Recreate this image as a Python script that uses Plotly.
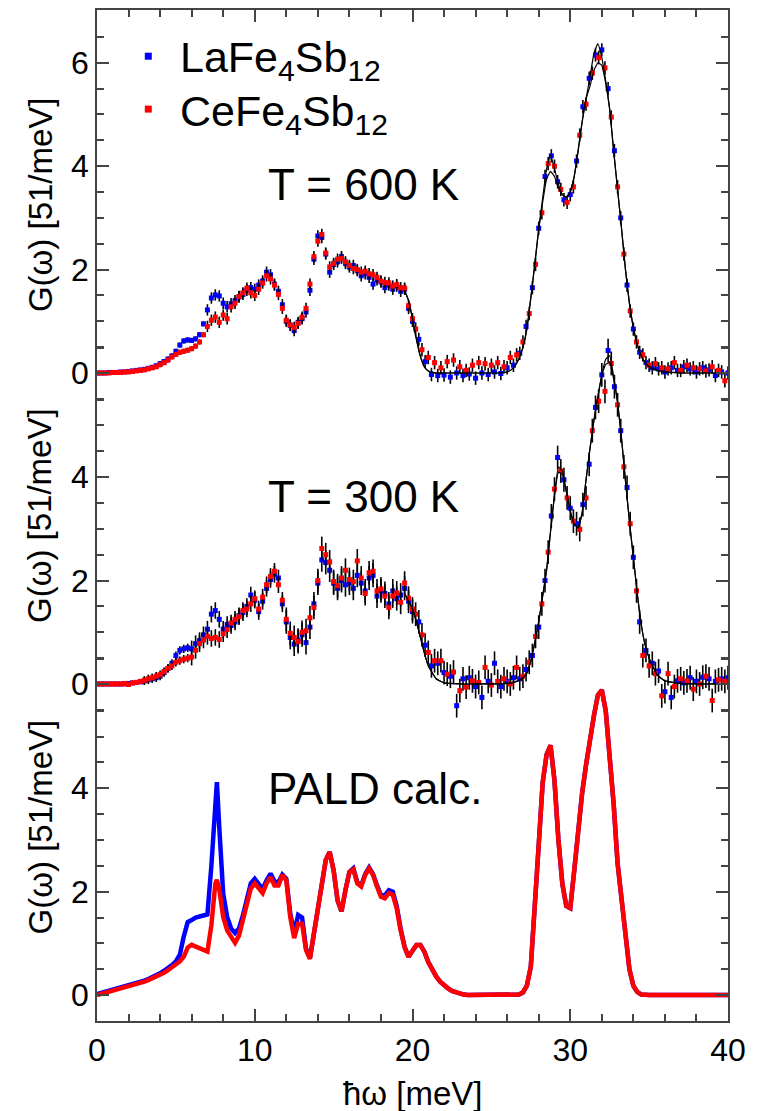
import plotly.graph_objects as go

# ---------------- energy grids (meV) ----------------
E_lo = [0,0.25,0.5,0.75,1,1.25,1.5,1.75,2,2.25,2.5,2.75,3,3.25,3.5,3.75,4,4.25,4.5,4.75,
        5,5.25,5.5,5.75,6,6.25,6.5,6.75,7,7.25,7.5,7.75,8,8.25,8.5,8.75,9,9.25,9.5,9.75,
        10,10.25,10.5,10.75,11,11.25,11.5,11.75,12,12.25,12.5,12.75,13,13.25,13.5,13.75,
        14,14.25,14.5,14.75,15,15.25,15.5,15.75,16,16.25,16.5,16.75,17,17.25,17.5,17.75,
        18,18.25,18.5,18.75,19,19.25,19.5,19.75,20]
E_hi_la = [20.4,20.8,21.2,21.6,22.0,22.4,22.8,23.2,23.6,24.0,24.4,24.8,25.2,25.6,26.0,26.4,
           26.8,27.2,27.6,28.0,28.4,28.8,29.2,29.6,30.0,30.4,30.8,31.2,31.6,32.0,32.4,32.8,
           33.2,33.6,34.0,34.4,34.8,35.2,35.6,36.0,36.4,36.8,37.2,37.6,38.0,38.4,38.8,39.2,
           39.6,40.0]
E_hi_ce = [20.2,20.6,21.0,21.4,21.8,22.2,22.6,23.0,23.4,23.8,24.2,24.6,25.0,25.4,25.8,26.2,
           26.6,27.0,27.4,27.8,28.2,28.6,29.0,29.4,29.8,30.2,30.6,31.0,31.4,31.8,32.2,32.6,
           33.0,33.4,33.8,34.2,34.6,35.0,35.4,35.8,36.2,36.6,37.0,37.4,37.8,38.2,38.6,39.0,
           39.4,39.8]
E_fit = [19.5,19.75,20,20.25,20.5,20.75,21,21.5,22,23,24,25,25.5,26,
         26.25,26.5,26.75,27,27.25,27.5,27.75,28,28.25,28.5,28.75,29,29.25,29.5,29.75,30,
         30.25,30.5,30.75,31,31.25,31.5,31.75,32,32.25,32.5,32.75,33,33.25,33.5,33.75,34,
         34.25,34.5,34.75,35,35.5,36,37,38,39,40]
E_calc = [0,0.25,0.5,0.75,1,1.25,1.5,1.75,2,2.25,2.5,2.75,3,3.25,3.5,3.75,4,4.25,4.5,4.75,
          5,5.25,5.5,5.75,6,6.25,6.5,6.75,7,7.25,7.5,7.6,7.75,8,8.25,8.5,8.75,9,9.25,9.5,9.75,
          10,10.25,10.5,10.75,11,11.25,11.5,11.75,12,12.25,12.5,12.75,13,13.25,13.5,13.75,
          14,14.25,14.5,14.75,15,15.25,15.5,15.75,16,16.25,16.5,16.75,17,17.25,17.5,17.75,
          18,18.25,18.5,18.75,19,19.25,19.5,19.75,20,20.25,20.5,20.75,21,21.25,21.5,21.75,
          22,22.25,22.5,22.75,23,23.25,23.5,24,25,26,26.5,26.75,
          27,27.25,27.5,27.75,28,28.25,28.5,28.75,29,29.25,29.5,29.75,30,30.25,30.5,30.75,
          31,31.25,31.5,31.75,32,32.25,32.5,32.75,33,33.25,33.5,33.75,34,34.25,34.5,34.75,35,
          36,38,40]

# ---------------- T = 600 K ----------------
g600_la_lo = [0.00,0.00,0.00,0.01,0.01,0.01,0.02,0.02,
              0.03,0.04,0.05,0.06,0.07,0.09,0.11,0.14,
              0.18,0.22,0.27,0.33,0.42,0.54,0.62,0.64,
              0.63,0.66,0.74,0.95,1.22,1.45,1.51,1.49,
              1.35,1.28,1.34,1.40,1.47,1.52,1.60,1.65,
              1.62,1.70,1.78,1.95,1.90,1.72,1.58,1.32,
              1.00,0.92,0.82,0.98,1.05,1.18,1.60,2.20,
              2.65,2.62,2.30,1.95,2.10,2.15,2.25,2.12,
              2.05,2.08,1.98,1.88,1.92,1.85,1.72,1.80,
              1.76,1.65,1.70,1.62,1.68,1.58,1.62,1.25,
              1.00]
g600_ce_lo = [0.00,0.00,0.00,0.00,0.01,0.01,0.01,0.02,
              0.02,0.03,0.04,0.05,0.06,0.08,0.10,0.12,
              0.16,0.20,0.25,0.31,0.36,0.40,0.42,0.44,
              0.47,0.52,0.60,0.74,0.90,1.02,1.08,0.98,
              1.12,1.05,1.28,1.35,1.48,1.55,1.64,1.55,
              1.50,1.62,1.74,1.88,1.82,1.70,1.52,1.25,
              1.02,0.93,0.88,0.96,1.08,1.25,1.72,2.25,
              2.55,2.68,2.32,2.05,2.12,2.20,2.22,2.15,
              2.08,2.02,2.00,1.95,1.97,1.92,1.90,1.85,
              1.78,1.75,1.74,1.68,1.71,1.65,1.64,1.30,
              1.05]
g600_la_hi = [0.65,0.22,-0.03,-0.05,-0.04,-0.08,0.00,-0.05,
              -0.02,-0.10,0.00,-0.03,0.02,-0.01,0.10,0.15,
              0.38,0.90,1.65,2.80,3.80,4.20,3.70,3.35,
              3.45,4.10,5.15,5.70,6.15,6.25,5.50,4.30,
              3.00,1.70,0.85,0.40,0.20,0.10,0.08,0.02,
              0.10,0.05,0.12,0.08,0.02,0.10,0.06,-0.05,
              0.02,0.00]
g600_ce_hi = [0.85,0.45,0.30,0.20,0.10,0.22,0.25,0.12,
              0.05,0.15,0.20,0.18,0.15,0.20,0.12,0.30,
              0.35,0.60,1.15,2.10,3.10,4.05,4.00,3.55,
              3.30,3.60,4.60,5.20,5.80,6.10,5.90,4.95,
              3.60,2.30,1.20,0.60,0.35,0.15,0.18,0.10,
              0.08,0.20,0.05,0.15,0.10,0.08,0.04,0.12,
              0.05,-0.15]
err600_lo = [0.02] * 16 + [0.05] * 12 + [0.11] * 53
err600_hi = [0.13] * 50
fit600_a = [1.60,1.40,1.05,0.65,0.32,0.12,0.04,0.00,0.00,0.00,0.00,0.00,0.00,0.02,
            0.06,0.14,0.28,0.50,0.85,1.45,2.10,2.78,3.38,3.95,4.22,3.95,3.65,3.45,3.40,3.50,
            3.80,4.30,4.85,5.30,5.72,6.18,6.37,6.10,5.65,5.10,4.30,3.55,2.80,2.00,1.35,0.88,
            0.55,0.33,0.20,0.12,0.05,0.02,0.00,0.00,0.00,0.00]
fit600_b = [1.60,1.40,1.05,0.65,0.32,0.12,0.04,0.00,0.00,0.00,0.00,0.00,0.00,0.02,
            0.06,0.14,0.28,0.50,0.85,1.45,2.10,2.78,3.30,3.75,3.90,3.80,3.58,3.45,3.40,3.50,
            3.80,4.30,4.85,5.30,5.55,5.85,6.00,5.95,5.60,5.10,4.30,3.55,2.80,2.00,1.35,0.88,
            0.55,0.33,0.20,0.12,0.05,0.02,0.00,0.00,0.00,0.00]

# ---------------- T = 300 K ----------------
g300_la_lo = [0.00,0.00,0.00,0.00,0.00,0.00,0.00,0.00,
              0.01,0.02,0.03,0.04,0.06,0.08,0.10,0.12,
              0.15,0.22,0.30,0.40,0.55,0.65,0.68,0.70,
              0.68,0.78,0.84,0.95,1.06,1.35,1.42,1.25,
              1.06,1.15,1.13,1.20,1.32,1.38,1.50,1.72,
              1.62,1.40,1.60,1.85,2.02,2.12,2.05,1.55,
              1.20,0.90,0.77,0.85,0.95,0.80,1.10,1.55,
              1.95,2.40,2.35,2.20,1.95,1.85,2.00,1.92,
              1.95,1.85,2.10,1.95,1.80,2.05,2.10,1.70,
              1.80,1.75,1.55,1.80,1.65,1.72,1.85,1.60,
              1.40]
g300_ce_lo = [0.00,0.00,0.00,0.00,0.00,0.00,0.00,0.01,
              -0.01,0.02,0.03,0.05,0.07,0.10,0.12,0.15,
              0.18,0.24,0.30,0.35,0.42,0.45,0.48,0.50,
              0.52,0.65,0.78,0.85,0.92,0.88,0.90,0.86,
              0.97,1.05,1.18,1.25,1.30,1.42,1.45,1.55,
              1.65,1.45,1.68,1.92,2.08,2.18,1.92,1.62,
              1.25,0.98,0.90,0.82,1.00,1.03,1.28,1.48,
              2.00,2.62,2.50,2.36,1.98,1.90,2.05,2.20,
              2.02,1.98,2.38,2.05,1.75,2.15,2.18,1.80,
              1.84,1.70,1.48,1.70,1.76,1.58,1.95,1.66,
              1.45]
g300_la_hi = [1.20,0.75,0.35,0.40,0.22,0.15,-0.42,0.10,
              0.12,-0.05,-0.26,0.05,0.40,-0.05,0.05,0.12,
              0.10,0.28,0.55,1.10,2.00,3.25,4.38,3.95,
              3.40,3.10,3.47,4.25,5.35,5.98,6.45,5.75,
              4.90,3.80,2.45,1.20,0.65,0.40,0.25,-0.15,
              -0.26,0.06,0.02,0.12,0.05,0.13,0.10,0.05,
              0.10,0.12]
g300_ce_hi = [1.35,0.95,0.61,0.45,0.45,0.19,0.23,-0.13,
              -0.06,0.06,0.03,0.32,-0.02,0.05,0.10,0.00,
              0.32,0.15,0.42,0.92,1.55,2.55,3.77,4.12,
              3.60,3.15,2.99,3.60,4.90,5.47,5.66,6.20,
              5.40,4.20,3.10,1.80,0.55,0.35,0.20,-0.23,
              0.20,-0.05,0.10,0.06,-0.10,0.00,0.15,-0.32,
              0.08,0.05]
err300_lo = [0.03] * 12 + [0.08] * 12 + [0.16] * 24 + [0.23] * 33
err300_hi = [0.23] * 50
fit300_a = [1.75,1.60,1.45,1.20,0.90,0.60,0.35,0.10,0.02,0.00,0.00,0.00,0.00,0.01,
            0.02,0.04,0.07,0.12,0.21,0.45,0.80,1.20,1.70,2.20,2.95,3.65,4.20,4.12,3.72,3.35,
            3.10,3.02,3.30,3.95,4.55,5.10,5.55,5.98,6.28,6.35,5.95,5.45,4.75,3.93,3.15,2.45,
            1.75,1.15,0.75,0.50,0.18,0.06,0.01,0.00,0.00,0.00]
fit300_b = [1.75,1.60,1.45,1.20,0.90,0.60,0.35,0.10,0.02,0.00,0.00,0.00,0.00,0.01,
            0.02,0.04,0.07,0.12,0.21,0.45,0.80,1.20,1.70,2.20,2.95,3.65,4.10,4.05,3.72,3.35,
            3.10,3.02,3.30,3.95,4.55,5.10,5.55,5.98,6.18,6.22,5.90,5.45,4.75,3.93,3.15,2.45,
            1.75,1.15,0.75,0.50,0.18,0.06,0.01,0.00,0.00,0.00]

# ---------------- PALD calculation ----------------
calc_la = [0.02,0.04,0.06,0.08,0.10,0.12,0.14,0.16,
           0.18,0.20,0.22,0.25,0.28,0.31,0.34,0.38,
           0.42,0.47,0.52,0.58,0.65,0.78,1.13,1.41,
           1.45,1.50,1.52,1.54,1.56,2.50,3.85,4.12,3.25,
           1.96,1.51,1.29,1.20,1.29,1.54,1.87,2.16,
           2.25,2.15,2.05,2.22,2.35,2.20,2.18,2.33,
           2.25,1.58,1.20,1.55,1.50,0.90,0.72,1.19,
           1.70,2.16,2.61,2.77,2.41,1.83,1.62,2.03,
           2.38,2.45,2.18,2.12,2.34,2.47,2.34,2.12,
           1.93,1.93,2.03,2.00,1.72,1.28,0.93,0.74,
           0.84,0.97,0.97,0.84,0.64,0.48,0.36,0.26,
           0.19,0.13,0.08,0.05,0.03,0.01,0.00,0.00,0.00,0.00,0.00,0.01,
           0.05,0.18,0.55,1.60,2.90,4.10,4.65,4.83,4.15,3.00,2.15,1.72,1.68,2.40,3.20,3.90,
           4.45,5.00,5.40,5.80,5.90,5.50,4.65,3.70,2.55,1.85,1.05,0.50,0.18,0.06,0.01,0.00,0.00,
           0.00,0.00,0.00]
calc_ce = [0.00,0.02,0.04,0.06,0.08,0.10,0.12,0.14,
           0.16,0.18,0.20,0.23,0.26,0.29,0.32,0.35,
           0.39,0.43,0.48,0.53,0.58,0.65,0.74,0.92,
           0.97,0.94,0.90,0.87,0.84,1.35,2.15,2.23,2.05,
           1.51,1.25,1.13,1.01,1.15,1.45,1.77,2.06,
           2.16,2.06,1.97,2.16,2.28,2.12,2.12,2.32,
           2.22,1.51,1.10,1.38,1.38,0.87,0.70,1.19,
           1.70,2.16,2.61,2.77,2.41,1.83,1.62,2.03,
           2.38,2.43,2.16,2.10,2.32,2.45,2.32,2.10,
           1.90,1.87,1.97,1.94,1.67,1.25,0.93,0.74,
           0.84,0.97,0.97,0.84,0.64,0.48,0.36,0.26,
           0.19,0.13,0.08,0.05,0.03,0.01,0.00,0.00,0.00,0.00,0.00,0.01,
           0.05,0.18,0.55,1.60,2.90,4.10,4.65,4.83,4.15,3.00,2.15,1.72,1.68,2.40,3.20,3.90,
           4.45,5.00,5.40,5.80,5.90,5.50,4.65,3.70,2.55,1.85,1.05,0.50,0.18,0.06,0.01,0.00,0.00,
           0.00,0.00,0.00]

# tick labels / texts
x_ticks = [0, 10, 20, 30, 40]
y_ticks_top = [0, 2, 4, 6]
y_ticks = [0, 2, 4]
legend_names = ["LaFe<sub>4</sub>Sb<sub>12</sub>", "CeFe<sub>4</sub>Sb<sub>12</sub>"]
panel_labels = ["T = 600 K", "T = 300 K", "PALD calc."]
y_title = "G(ω) [51/meV]"
x_title = "ħω [meV]"

for a, b in [(E_lo, g600_la_lo), (E_lo, g600_ce_lo), (E_lo, g300_la_lo), (E_lo, g300_ce_lo),
             (E_lo, err600_lo), (E_lo, err300_lo), (E_hi_la, g600_la_hi), (E_hi_ce, g600_ce_hi),
             (E_hi_la, g300_la_hi), (E_hi_ce, g300_ce_hi), (E_fit, fit600_a), (E_fit, fit600_b),
             (E_fit, fit300_a), (E_fit, fit300_b), (E_calc, calc_la), (E_calc, calc_ce)]:
    assert len(a) == len(b), (len(a), len(b))

BLUE = "#0000ff"
RED = "#ff0000"
FRAME = "#444444"
FONT = "Liberation Sans, Arial, Helvetica, sans-serif"

fig = go.Figure()


def add_points(x, y, err, color, yaxis):
    fig.add_trace(go.Scatter(
        x=x, y=y, mode="markers", yaxis=yaxis, showlegend=False,
        marker=dict(symbol="square", size=5, color=color, line=dict(width=0)),
        error_y=dict(type="data", array=err, color="black", thickness=1.6, width=0),
    ))


def add_line(x, y, color, width, yaxis, shape="linear"):
    fig.add_trace(go.Scatter(
        x=x, y=y, mode="lines", yaxis=yaxis, showlegend=False,
        line=dict(color=color, width=width, shape=shape, smoothing=0.35 if shape == "spline" else None),
    ))


# bottom panel (PALD)
add_line(E_calc, calc_la, BLUE, 4.5, "y")
add_line(E_calc, calc_ce, RED, 4.5, "y")

# middle panel (300 K)
add_points(E_lo + E_hi_la, g300_la_lo + g300_la_hi, err300_lo + err300_hi, BLUE, "y2")
add_points(E_lo + E_hi_ce, g300_ce_lo + g300_ce_hi, err300_lo + err300_hi, RED, "y2")
add_line(E_fit, fit300_a, "black", 1.2, "y2", "spline")
add_line(E_fit, fit300_b, "black", 1.2, "y2", "spline")

# top panel (600 K)
add_points(E_lo + E_hi_la, g600_la_lo + g600_la_hi, err600_lo + err600_hi, BLUE, "y3")
add_points(E_lo + E_hi_ce, g600_ce_lo + g600_ce_hi, err600_lo + err600_hi, RED, "y3")
add_line(E_fit, fit600_a, "black", 1.2, "y3", "spline")
add_line(E_fit, fit600_b, "black", 1.2, "y3", "spline")

# ---------------- layout geometry ----------------
L, R, T, B = 97, 728, 8, 1021        # plot area in pixels
PXU = 51.8                            # pixels per y unit
H = B - T


def yrange(zero_px):
    lo = -(B - zero_px) / PXU
    return [lo, lo + H / PXU]


def px(X):
    return (X - L) / (R - L)


def py(Y):
    return (B - Y) / (B - T)


tick_common = dict(ticks="inside", ticklen=12, tickwidth=1.5, tickcolor=FRAME,
                   showline=True, linecolor=FRAME, linewidth=1.5, mirror="ticks",
                   showgrid=False, zeroline=False, tickfont=dict(size=32, family=FONT, color="black"))
minor_y = [-0.5, 0.5, 1, 1.5, 2.5, 3, 3.5, 4.5, 5, 5.5, 6.5]

fig.update_layout(
    width=757, height=1111,
    margin=dict(l=L, r=757 - R, t=T, b=1111 - B),
    paper_bgcolor="white", plot_bgcolor="white", showlegend=False,
    font=dict(family=FONT, size=32, color="black"),
    xaxis=dict(range=[0, 40], tickmode="array", tickvals=x_ticks, ticktext=[str(v) for v in x_ticks],
               minor=dict(tickmode="array", tickvals=[2, 4, 6, 8, 12, 14, 16, 18, 22, 24, 26, 28, 32, 34, 36, 38],
                          ticks="inside", ticklen=7, tickwidth=1.5, tickcolor=FRAME),
               **tick_common),
    yaxis=dict(range=yrange(995), domain=[0, 1], tickmode="array", tickvals=y_ticks,
               minor=dict(tickmode="array", tickvals=minor_y, ticks="inside", ticklen=7,
                          tickwidth=1.5, tickcolor=FRAME), **tick_common),
    yaxis2=dict(range=yrange(683.3), domain=[0, 1], overlaying="y", anchor="x", side="left",
                tickmode="array", tickvals=y_ticks,
                minor=dict(tickmode="array", tickvals=minor_y, ticks="inside", ticklen=7,
                           tickwidth=1.5, tickcolor=FRAME), **tick_common),
    yaxis3=dict(range=yrange(371.7), domain=[0, 1], overlaying="y", anchor="x", side="left",
                tickmode="array", tickvals=y_ticks_top,
                minor=dict(tickmode="array", tickvals=minor_y, ticks="inside", ticklen=7,
                           tickwidth=1.5, tickcolor=FRAME), **tick_common),
)

annotations = []
# y-axis titles
for yc in [203.5, 515, 827]:
    annotations.append(dict(text=y_title, xref="paper", yref="paper", x=px(40), y=py(yc),
                            xanchor="center", yanchor="middle", textangle=-90, showarrow=False,
                            font=dict(size=33, family=FONT, color="black")))
# x-axis title
annotations.append(dict(text=x_title, xref="paper", yref="paper", x=px(412), y=py(1094),
                        xanchor="center", yanchor="middle", showarrow=False,
                        font=dict(size=33, family=FONT, color="black")))
# panel labels
for lab, yc in zip(panel_labels, [183, 495, 788]):
    annotations.append(dict(text=lab, xref="paper", yref="paper", x=px(266), y=py(yc),
                            xanchor="left", yanchor="middle", showarrow=False,
                            font=dict(size=44, family=FONT, color="black")))
# legend texts
for lab, yc in zip(legend_names, [58, 112]):
    annotations.append(dict(text=lab, xref="paper", yref="paper", x=px(178), y=py(yc),
                            xanchor="left", yanchor="middle", showarrow=False,
                            font=dict(size=43, family=FONT, color="black")))
fig.update_layout(annotations=annotations)

# legend markers
shapes = []
for col, yc in zip([BLUE, RED], [54.3, 107.3]):
    shapes.append(dict(type="rect", xref="paper", yref="paper",
                       x0=px(144.8), x1=px(151.8), y0=py(yc + 3.5), y1=py(yc - 3.5),
                       fillcolor=col, line=dict(width=0)))
fig.update_layout(shapes=shapes)

fig.write_html("out.html")
